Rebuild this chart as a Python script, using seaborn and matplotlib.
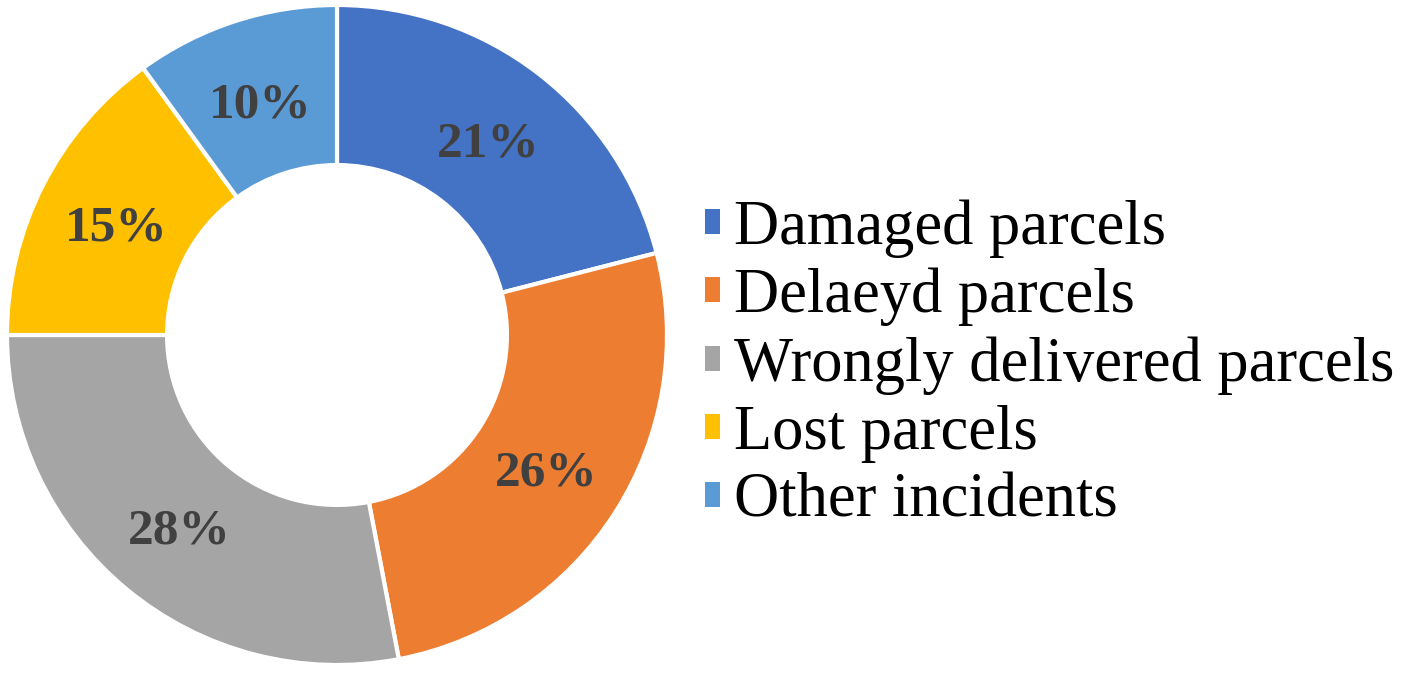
import matplotlib
matplotlib.use("Agg")
import matplotlib.pyplot as plt
import matplotlib.patches as mpatches
import seaborn as sns

# Data
categories = ["Damaged parcels", "Delaeyd parcels", "Wrongly delivered parcels",
              "Lost parcels", "Other incidents"]
shares = [21, 26, 28, 15, 10]
colors = ["#4472C4", "#ED7D31", "#A5A5A5", "#FFC000", "#5B9BD5"]

sns.set_theme(style="white")
plt.rcParams['font.family'] = ['Liberation Serif', 'DejaVu Serif']

fig = plt.figure(figsize=(14.07, 6.82), dpi=100)
ax = fig.add_axes([7 / 1407, 17 / 682, 660 / 1407, 660 / 682])

palette = sns.color_palette(colors)
wedges, texts, autotexts = ax.pie(
    shares, colors=palette, startangle=90, counterclock=False,
    autopct='%d%%', pctdistance=0.75, radius=1,
    wedgeprops=dict(width=0.485, edgecolor='white', linewidth=3),
    textprops=dict(fontsize=37, fontweight='bold', color='#404040'))
for t in autotexts:
    t.set_va('center_baseline')
ax.set_xlim(-1, 1)
ax.set_ylim(-1, 1)
ax.set_aspect('equal')

# legend handles without the white wedge edge
handles = [mpatches.Patch(facecolor=c, edgecolor='none') for c in palette]
leg = fig.legend(handles, categories, loc='center left',
                 bbox_to_anchor=(705 / 1407, 317 / 682),
                 frameon=False, fontsize=45, labelspacing=0.16,
                 handlelength=0.24, handleheight=0.24, handletextpad=0.22,
                 borderaxespad=0, borderpad=0)
for t in leg.get_texts():
    t.set_color('black')

fig.savefig("out.png", dpi=100)
